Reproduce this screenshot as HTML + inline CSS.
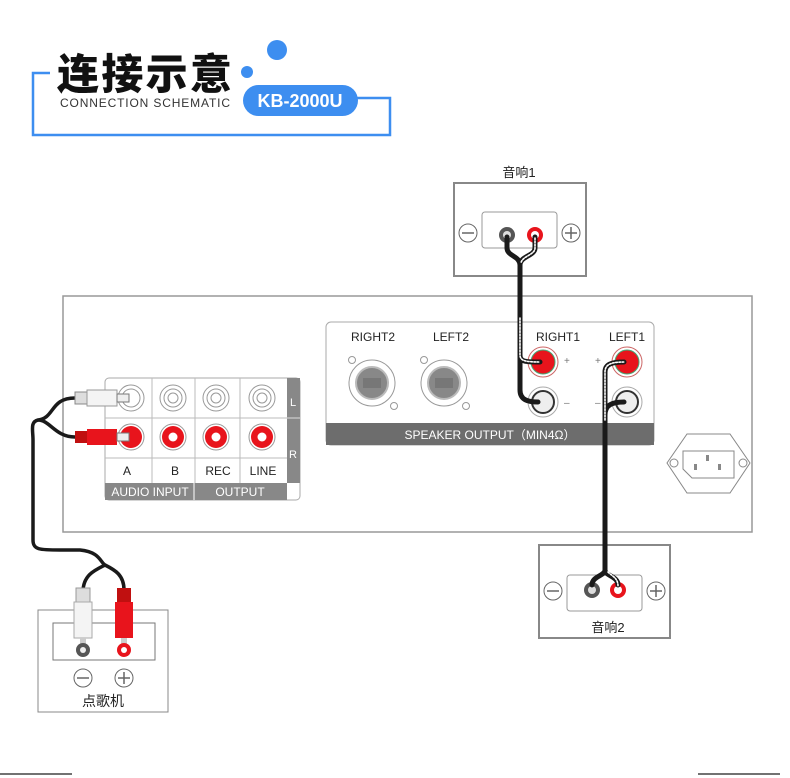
<!DOCTYPE html>
<html><head><meta charset="utf-8"><style>
body{margin:0;background:#fff}
svg{display:block}
text{font-family:"Liberation Sans","Noto Sans CJK SC",sans-serif}
</style></head><body>
<svg width="790" height="778" viewBox="0 0 790 778" xmlns="http://www.w3.org/2000/svg">
<!-- header -->
<path d="M50 73 H33 V135 H390 V98 H357" fill="none" stroke="#3d8ef0" stroke-width="2.5"/>
<text x="57" y="89" font-size="42" font-weight="900" fill="#111" font-family="'Noto Sans CJK SC',sans-serif" textLength="175" lengthAdjust="spacing">连接示意</text>
<circle cx="277" cy="50" r="10" fill="#3d8ef0"/>
<circle cx="247" cy="72" r="6" fill="#3d8ef0"/>
<text x="60" y="107" font-size="12" fill="#333" textLength="170">CONNECTION SCHEMATIC</text>
<rect x="243" y="85" width="115" height="31" rx="15.5" fill="#3d8ef0"/>
<text x="300" y="107" font-size="18" font-weight="bold" fill="#fff" text-anchor="middle">KB-2000U</text>

<!-- main device -->
<rect x="63" y="296" width="689" height="236" fill="#fff" stroke="#999" stroke-width="1.5"/>

<!-- audio panel -->
<rect x="105" y="378" width="195" height="122" rx="4" fill="#fff" stroke="#aaa"/>
<rect x="287" y="378" width="13" height="105" fill="#888"/>
<line x1="287" y1="418" x2="300" y2="418" stroke="#ddd"/>
<text x="293" y="406" font-size="11" fill="#fff" text-anchor="middle">L</text>
<text x="293" y="458" font-size="11" fill="#fff" text-anchor="middle">R</text>
<path d="M105 418 H287 M105 458 H287 M152 378 V483 M195 378 V483 M240 378 V483" stroke="#bbb" fill="none"/>
<rect x="105" y="483" width="182" height="17" fill="#888"/>
<line x1="194" y1="483" x2="194" y2="500" stroke="#fff"/>
<text x="150" y="496" font-size="12" fill="#fff" text-anchor="middle">AUDIO INPUT</text>
<text x="240" y="496" font-size="12" fill="#fff" text-anchor="middle">OUTPUT</text>
<g font-size="12" fill="#222" text-anchor="middle">
<text x="127" y="475">A</text><text x="175" y="475">B</text><text x="218" y="475">REC</text><text x="263" y="475">LINE</text></g>
<g fill="none">
<g stroke="#999"><circle cx="131" cy="398" r="13"/><circle cx="131" cy="398" r="9"/>
<circle cx="173" cy="398" r="13"/><circle cx="173" cy="398" r="9"/><circle cx="173" cy="398" r="5"/>
<circle cx="216" cy="398" r="13"/><circle cx="216" cy="398" r="9"/><circle cx="216" cy="398" r="5"/>
<circle cx="262" cy="398" r="13"/><circle cx="262" cy="398" r="9"/><circle cx="262" cy="398" r="5"/>
<circle cx="131" cy="437" r="13"/><circle cx="173" cy="437" r="13"/><circle cx="216" cy="437" r="13"/><circle cx="262" cy="437" r="13"/></g>
</g>
<g fill="#e8141c"><circle cx="131" cy="437" r="11"/><circle cx="173" cy="437" r="11"/><circle cx="216" cy="437" r="11"/><circle cx="262" cy="437" r="11"/></g>
<g fill="#fff"><circle cx="173" cy="437" r="4.5"/><circle cx="216" cy="437" r="4.5"/><circle cx="262" cy="437" r="4.5"/></g>

<!-- RCA cable -->
<path d="M75 398 C50 398 55 418 38 420 C30 422 33 430 33 440 V540 C33 550 40 550 60 550 H80 C100 552 100 562 105 565 M105 565 C95 570 83 575 83 592 M105 565 C115 570 124 575 124 590 M75 437 C55 437 50 420 38 420" fill="none" stroke="#1a1a1a" stroke-width="3.5"/>
<rect x="75" y="392" width="12" height="12" fill="#ddd" stroke="#888"/>
<rect x="87" y="390" width="30" height="16" fill="#f4f4f4" stroke="#999"/>
<rect x="117" y="394" width="12" height="8" fill="#eee" stroke="#777"/>
<rect x="75" y="431" width="12" height="12" fill="#c01010"/>
<rect x="87" y="429" width="30" height="16" fill="#e8141c"/>
<rect x="117" y="433" width="12" height="8" fill="#eee" stroke="#777"/>

<!-- speaker panel -->
<rect x="326" y="322" width="328" height="123" rx="5" fill="#fff" stroke="#aaa"/>
<rect x="326" y="423" width="328" height="22" fill="#6d6d6d"/>
<text x="490" y="439" font-size="12" fill="#fff" text-anchor="middle">SPEAKER OUTPUT（MIN4Ω）</text>
<g font-size="12" fill="#222" text-anchor="middle">
<text x="373" y="341">RIGHT2</text><text x="451" y="341">LEFT2</text><text x="558" y="341">RIGHT1</text><text x="627" y="341">LEFT1</text></g>
<g>
<circle cx="372" cy="383" r="23" fill="#fff" stroke="#999"/><circle cx="372" cy="383" r="16" fill="#888" stroke="#bbb" stroke-width="2"/><rect x="363" y="378" width="18" height="10" fill="#777"/><circle cx="352" cy="360" r="3.5" fill="none" stroke="#999"/><circle cx="394" cy="406" r="3.5" fill="none" stroke="#999"/>
<circle cx="444" cy="383" r="23" fill="#fff" stroke="#999"/><circle cx="444" cy="383" r="16" fill="#888" stroke="#bbb" stroke-width="2"/><rect x="435" y="378" width="18" height="10" fill="#777"/><circle cx="424" cy="360" r="3.5" fill="none" stroke="#999"/><circle cx="466" cy="406" r="3.5" fill="none" stroke="#999"/>
</g>
<g>
<circle cx="543" cy="362" r="15" fill="#fff" stroke="#c66"/><circle cx="543" cy="362" r="12" fill="#e8141c" stroke="#4a7" stroke-width="1"/>
<circle cx="627" cy="362" r="15" fill="#fff" stroke="#c66"/><circle cx="627" cy="362" r="12" fill="#e8141c" stroke="#4a7" stroke-width="1"/>
<circle cx="543" cy="402" r="15" fill="#fff" stroke="#aaa"/><circle cx="543" cy="402" r="11" fill="#eee" stroke="#333" stroke-width="2"/>
<circle cx="627" cy="402" r="15" fill="#fff" stroke="#aaa"/><circle cx="627" cy="402" r="11" fill="#eee" stroke="#333" stroke-width="2"/>
<g font-size="10" fill="#777"><text x="564" y="364">+</text><text x="564" y="406">–</text><text x="595" y="364">+</text><text x="595" y="406">–</text></g>
</g>

<!-- IEC -->
<polygon points="687,434 730,434 750,463 730,493 687,493 667,463" fill="#fff" stroke="#888"/>
<path d="M683 451 H734 V478 H692 L683 469 Z" fill="#fff" stroke="#888"/>
<rect x="706" y="455" width="3" height="6" fill="#888"/><rect x="694" y="464" width="3" height="6" fill="#888"/><rect x="718" y="464" width="3" height="6" fill="#888"/>
<circle cx="674" cy="463" r="4" fill="none" stroke="#888"/><circle cx="743" cy="463" r="4" fill="none" stroke="#888"/>

<!-- speaker 1 -->
<text x="519" y="177" font-size="13" fill="#222" text-anchor="middle">音响1</text>
<rect x="454" y="183" width="132" height="93" fill="#fff" stroke="#888" stroke-width="2"/>
<rect x="482" y="212" width="75" height="36" rx="3" fill="#fff" stroke="#999"/>
<circle cx="468" cy="233" r="9" fill="none" stroke="#666"/><line x1="462" y1="233" x2="474" y2="233" stroke="#666" stroke-width="1.5"/>
<circle cx="571" cy="233" r="9" fill="none" stroke="#666"/><path d="M565 233 H577 M571 227 V239" stroke="#666" stroke-width="1.5"/>
<circle cx="507" cy="235" r="8" fill="#555"/><circle cx="507" cy="235" r="4" fill="#ddd"/>
<circle cx="535" cy="235" r="8" fill="#e8141c"/><circle cx="535" cy="235" r="4" fill="#fff"/>

<!-- speaker 2 -->
<rect x="539" y="545" width="131" height="93" fill="#fff" stroke="#888" stroke-width="2"/>
<rect x="567" y="575" width="75" height="36" rx="3" fill="#fff" stroke="#999"/>
<circle cx="553" cy="591" r="9" fill="none" stroke="#666"/><line x1="547" y1="591" x2="559" y2="591" stroke="#666" stroke-width="1.5"/>
<circle cx="656" cy="591" r="9" fill="none" stroke="#666"/><path d="M650 591 H662 M656 585 V597" stroke="#666" stroke-width="1.5"/>
<circle cx="592" cy="590" r="8" fill="#555"/><circle cx="592" cy="590" r="4" fill="#ddd"/>
<circle cx="618" cy="590" r="8" fill="#e8141c"/><circle cx="618" cy="590" r="4" fill="#fff"/>
<text x="608" y="632" font-size="13" fill="#222" text-anchor="middle">音响2</text>

<!-- speaker cables -->
<g fill="none" stroke-linecap="round">
<path d="M507 237 V248 C507 256 520 256 520 265 V390 C520 400 528 402 538 402" stroke="#1a1a1a" stroke-width="5"/>
<path d="M535 237 V248 C535 256 520 256 520 265 V355 C520 362 526 362 540 362" stroke="#1a1a1a" stroke-width="5"/>
<path d="M535 238 V248 C535 255 522 256 521 263 M520 318 V355 C520 361 526 362 540 362" stroke="#fff" stroke-width="1.6" stroke-dasharray="1.6 1.6"/>
<path d="M605 545 V415 C605 405 612 402 624 402" stroke="#1a1a1a" stroke-width="5"/>
<path d="M605 545 V372 C605 364 612 362 624 362" stroke="#1a1a1a" stroke-width="5"/>
<path d="M605 420 V372 C605 364 612 362 624 362" stroke="#fff" stroke-width="1.6" stroke-dasharray="1.6 1.6"/>
<path d="M605 545 V570 C605 576 592 576 592 585" stroke="#1a1a1a" stroke-width="5"/>
<path d="M605 545 V570 C605 576 618 576 618 585" stroke="#1a1a1a" stroke-width="5"/>
<path d="M608 572 C612 576 618 578 618 586" stroke="#fff" stroke-width="1.6" stroke-dasharray="1.6 1.6"/>
</g>

<!-- jukebox -->
<rect x="38" y="610" width="130" height="102" fill="#fff" stroke="#888"/>
<rect x="53" y="623" width="102" height="37" fill="#fff" stroke="#777"/>
<rect x="76" y="588" width="14" height="14" fill="#ddd" stroke="#999"/>
<rect x="74" y="602" width="18" height="36" fill="#f4f4f4" stroke="#aaa"/>
<rect x="80" y="638" width="6" height="6" fill="#ccc"/>
<circle cx="83" cy="650" r="7" fill="#555"/><circle cx="83" cy="650" r="3" fill="#eee"/>
<rect x="117" y="588" width="14" height="14" fill="#c01010"/>
<rect x="115" y="602" width="18" height="36" fill="#e8141c"/>
<rect x="121" y="638" width="6" height="6" fill="#ccc"/>
<circle cx="124" cy="650" r="7" fill="#e8141c"/><circle cx="124" cy="650" r="3" fill="#fff"/>
<circle cx="83" cy="678" r="9" fill="none" stroke="#666"/><line x1="77" y1="678" x2="89" y2="678" stroke="#666" stroke-width="1.5"/>
<circle cx="124" cy="678" r="9" fill="none" stroke="#666"/><path d="M118 678 H130 M124 672 V684" stroke="#666" stroke-width="1.5"/>
<text x="103" y="706" font-size="14" fill="#222" text-anchor="middle">点歌机</text>

<line x1="0" y1="774" x2="72" y2="774" stroke="#444" stroke-width="1.5"/>
<line x1="698" y1="774" x2="780" y2="774" stroke="#444" stroke-width="1.5"/>
</svg>
</body></html>
